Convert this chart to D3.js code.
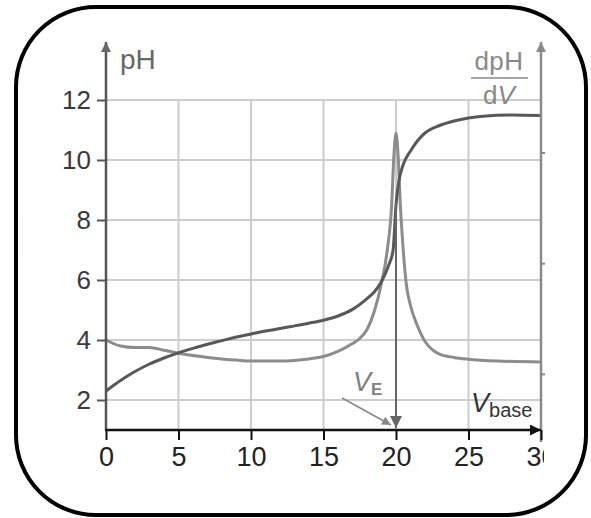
<!DOCTYPE html>
<html><head><meta charset="utf-8">
<script src="https://cdn.jsdelivr.net/npm/d3@7"></script>
<style>body{margin:0;background:#fff}svg{display:block}</style>
</head><body>
<svg id="c" width="591" height="518"></svg>
<script>
const xTicks = [0, 5, 10, 15, 20, 25, 30];
const yTicks = [2, 4, 6, 8, 10, 12];
const phV  = [0, 1, 2, 3, 4, 5, 6, 7, 8, 9, 10, 11, 12, 13, 14, 15, 16, 17, 18, 18.5, 19, 19.5, 19.8, 20, 20.2, 20.5, 21, 21.5, 22, 23, 24, 25, 26, 28, 30];
const phY  = [2.3, 2.65, 2.95, 3.2, 3.4, 3.57, 3.72, 3.86, 3.98, 4.1, 4.2, 4.3, 4.38, 4.47, 4.56, 4.66, 4.8, 5.02, 5.38, 5.6, 5.95, 6.5, 7.0, 8.5, 9.3, 9.85, 10.3, 10.65, 10.9, 11.15, 11.3, 11.4, 11.46, 11.5, 11.48];
const dV   = [0, 1, 2, 3, 4, 5, 6, 7, 8, 9, 10, 11, 12, 13, 14, 15, 16, 17, 17.5, 18, 18.5, 19, 19.4, 19.7, 19.85, 20, 20.15, 20.3, 20.5, 20.7, 21, 21.5, 22, 22.5, 23, 24, 25, 27, 30];
const dY   = [4.0, 3.8, 3.75, 3.75, 3.66, 3.56, 3.48, 3.42, 3.37, 3.33, 3.3, 3.3, 3.3, 3.32, 3.37, 3.45, 3.62, 3.88, 4.05, 4.35, 4.95, 5.9, 7.0, 8.5, 10.1, 10.9, 10.1, 8.5, 7.0, 5.9, 5.15, 4.45, 3.95, 3.68, 3.53, 3.42, 3.36, 3.3, 3.27];
const rightTicks = [1, 2, 3];
const V_E = 20;
const V_E_pH = 8.6;

const svg = d3.select("#c");
const FONT = "'Liberation Sans', Arial, sans-serif";
const x = d3.scaleLinear().domain([0, 30]).range([106, 541]);
const y = d3.scaleLinear().domain([1, 12]).range([430, 100]);
const yR = d3.scaleLinear().domain([0, 3]).range([485, 153]);

const defs = svg.append("defs");
function marker(id, color, w, h) {
  defs.append("marker").attr("id", id).attr("viewBox", "0 0 10 10")
    .attr("refX", 10).attr("refY", 5).attr("markerWidth", w).attr("markerHeight", h)
    .attr("markerUnits", "userSpaceOnUse").attr("orient", "auto")
    .append("path").attr("d", "M0,0 L10,5 L0,10 z").attr("fill", color);
}
marker("arK", "#111", 16, 11);
marker("arG", "#666", 14, 10);
marker("arL", "#8a8a8a", 14, 10);
marker("arD", "#666", 14, 12);
marker("arE", "#888", 12, 9);
defs.append("clipPath").attr("id", "cl").append("rect").attr("x", 0).attr("y", 0).attr("width", 544).attr("height", 518);

// grid
const grid = svg.append("g").attr("stroke", "#cdcdcd").attr("stroke-width", 2);
grid.selectAll("line.v").data(xTicks.filter(d => d > 0 && d < 30)).join("line")
  .attr("x1", d => x(d)).attr("x2", d => x(d)).attr("y1", y(12)).attr("y2", y(1));
grid.selectAll("line.h").data(yTicks).join("line")
  .attr("x1", x(0)).attr("x2", x(30)).attr("y1", d => y(d)).attr("y2", d => y(d));

// curves
const line = d3.line().x(d => x(d[0])).y(d => y(d[1])).curve(d3.curveMonotoneX);
svg.append("path").datum(dV.map((v, i) => [v, dY[i]])).attr("d", line)
  .attr("fill", "none").attr("stroke", "#8c8c8c").attr("stroke-width", 3);
svg.append("path").datum(phV.map((v, i) => [v, phY[i]])).attr("d", line)
  .attr("fill", "none").attr("stroke", "#585858").attr("stroke-width", 3);

// V_E vertical arrow
svg.append("line").attr("x1", x(V_E)).attr("x2", x(V_E)).attr("y1", y(V_E_pH)).attr("y2", y(1) - 2)
  .attr("stroke", "#666").attr("stroke-width", 2).attr("marker-end", "url(#arD)");

// right axis
svg.append("line").attr("x1", x(30)).attr("x2", x(30)).attr("y1", y(1) + 12).attr("y2", 42)
  .attr("stroke", "#8a8a8a").attr("stroke-width", 2.5).attr("marker-end", "url(#arL)");
svg.selectAll("line.rt").data(rightTicks).join("line")
  .attr("x1", x(30)).attr("x2", x(30) + 4).attr("y1", d => yR(d)).attr("y2", d => yR(d))
  .attr("stroke", "#8a8a8a").attr("stroke-width", 2);

// left axis
const gy = svg.append("g").attr("transform", `translate(${x(0)},0)`)
  .call(d3.axisLeft(y).tickValues(yTicks).tickSize(9).tickPadding(6));
gy.select(".domain").remove();
gy.selectAll(".tick line").attr("stroke", "#555").attr("stroke-width", 2);
gy.selectAll(".tick text").attr("font-family", FONT).attr("font-size", 26).attr("fill", "#3a3a3a").attr("dy", "0.34em");
svg.append("line").attr("x1", x(0)).attr("x2", x(0)).attr("y1", y(1)).attr("y2", 42)
  .attr("stroke", "#555").attr("stroke-width", 2.5).attr("marker-end", "url(#arG)");

// bottom axis
const gx = svg.append("g").attr("transform", `translate(0,${y(1)})`).attr("clip-path", "url(#cl)")
  .call(d3.axisBottom(x).tickValues(xTicks).tickSize(10).tickPadding(7));
gx.select(".domain").remove();
gx.selectAll(".tick line").attr("stroke", "#111").attr("stroke-width", 2);
gx.selectAll(".tick text").attr("font-family", FONT).attr("font-size", 27).attr("fill", "#222").attr("dy", "0.72em");
svg.append("line").attr("x1", x(0) - 1).attr("x2", x(30)).attr("y1", y(1)).attr("y2", y(1))
  .attr("stroke", "#111").attr("stroke-width", 2.5).attr("marker-end", "url(#arK)");

// labels
svg.append("text").attr("x", 120).attr("y", 69).attr("font-family", FONT).attr("font-size", 28)
  .attr("fill", "#666").text("pH");
svg.append("text").attr("x", 499).attr("y", 70).attr("text-anchor", "middle").attr("font-family", FONT)
  .attr("font-size", 26).attr("letter-spacing", 0.5).attr("fill", "#888").text("dpH");
svg.append("line").attr("x1", 471).attr("x2", 528).attr("y1", 78).attr("y2", 78).attr("stroke", "#888").attr("stroke-width", 1.5);
const dvt = svg.append("text").attr("x", 499).attr("y", 104).attr("text-anchor", "middle").attr("font-family", FONT)
  .attr("font-size", 26).attr("fill", "#888");
dvt.append("tspan").text("d");
dvt.append("tspan").attr("font-style", "italic").text("V");

const vb = svg.append("text").attr("x", 471).attr("y", 412).attr("font-family", FONT).attr("font-size", 27).attr("fill", "#333");
vb.append("tspan").attr("font-style", "italic").text("V");
vb.append("tspan").attr("font-size", 20).attr("dy", 5).text("base");

const ve = svg.append("text").attr("x", 353).attr("y", 391).attr("font-family", FONT).attr("font-size", 27).attr("fill", "#808080");
ve.append("tspan").attr("font-style", "italic").text("V");
ve.append("tspan").attr("font-size", 17).attr("font-weight", "bold").attr("dy", 4).text("E");
svg.append("line").attr("x1", 342).attr("x2", 391).attr("y1", 398).attr("y2", 425)
  .attr("stroke", "#888").attr("stroke-width", 1.5).attr("marker-end", "url(#arE)");

// frame
svg.append("rect").attr("x", 16).attr("y", 7).attr("width", 570).attr("height", 508).attr("rx", 80)
  .attr("fill", "none").attr("stroke", "#000").attr("stroke-width", 4);
</script>
</body></html>
